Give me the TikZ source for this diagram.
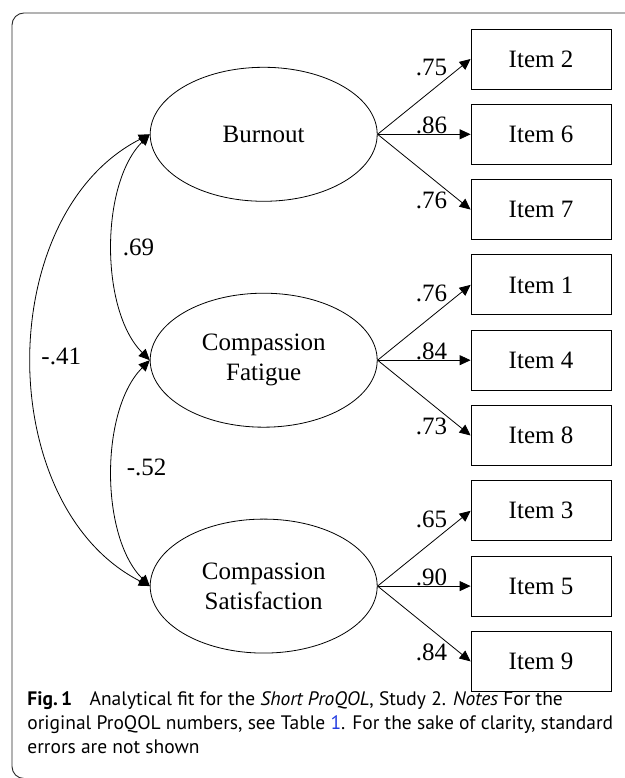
\documentclass[tikz,border=0pt]{standalone}
\usepackage{fontspec}
\setmainfont{Liberation Serif}
\newfontfamily\capfont{PT Sans}
\usepackage{xcolor}
\usetikzlibrary{
    positioning,
    arrows.meta,
    shapes.geometric
}
\definecolor{linkBlue}{RGB}{35, 60, 225}
\definecolor{frameGray}{RGB}{40, 40, 40}

\begin{document}
\begin{tikzpicture}[x=1pt, y=1pt, line width=0.8pt,
        >={Triangle[length=11pt, width=10pt]},
        latent/.style={draw, ellipse, minimum width=227pt, minimum height=134pt,
            inner sep=0pt, align=center, font=\fontsize{25}{30}\selectfont},
        item/.style={draw, rectangle, minimum width=140pt, minimum height=60pt,
            inner sep=0pt, font=\fontsize{25}{30}\selectfont},
        wt/.style={inner sep=1pt, font=\fontsize{25}{30}\selectfont}]
        \useasboundingbox (0,0) rectangle (624,778);
        \draw[frameGray, line width=0.9pt, rounded corners=12pt] (12,-0.5) rectangle (660,765);

        % Indicators
        \node[item] (i2) at (541,719) {Item 2};
        \node[item, below=14.5pt of i2] (i6) {Item 6};
        \node[item, below=14.5pt of i6] (i7) {Item 7};
        \node[item, below=14.5pt of i7] (i1) {Item 1};
        \node[item, below=14.5pt of i1] (i4) {Item 4};
        \node[item, below=14.5pt of i4] (i8) {Item 8};
        \node[item, below=14.5pt of i8] (i3) {Item 3};
        \node[item, below=14.5pt of i3] (i5) {Item 5};
        \node[item, below=14.5pt of i5] (i9) {Item 9};

        % Factors
        \node[latent, left=93pt of i6] (burn) {Burnout};
        \node[latent, left=93pt of i4] (fat) {Compassion\\Fatigue};
        \node[latent, left=93pt of i5] (sat) {Compassion\\Satisfaction};

        % Loadings
        \draw[->] (burn.east) -- (i2.west) node[wt, pos=0.58, above=13pt] {.75};
        \draw[->] (burn.east) -- (i6.west) node[wt, pos=0.58, above=-1pt] {.86};
        \draw[->] (burn.east) -- (i7.west) node[wt, pos=0.58, below=13pt] {.76};
        \draw[->] (fat.east) -- (i1.west) node[wt, pos=0.58, above=13pt] {.76};
        \draw[->] (fat.east) -- (i4.west) node[wt, pos=0.58, above=-1pt] {.84};
        \draw[->] (fat.east) -- (i8.west) node[wt, pos=0.58, below=13pt] {.73};
        \draw[->] (sat.east) -- (i3.west) node[wt, pos=0.58, above=13pt] {.65};
        \draw[->] (sat.east) -- (i5.west) node[wt, pos=0.58, above=-1pt] {.90};
        \draw[->] (sat.east) -- (i9.west) node[wt, pos=0.58, below=13pt] {.84};

        % Correlations
        \draw[<->] (burn.west) to[out=225, in=135, looseness=0.8]
            node[wt, midway, right=9pt] {.69} (fat.west);
        \draw[<->] (fat.west) to[out=225, in=135, looseness=0.8]
            node[wt, midway, right=13pt, yshift=6pt] {-.52} (sat.west);
        \draw[<->] (burn.west) to[out=207, in=153, looseness=1]
            node[wt, midway, right=8pt, yshift=4pt] {-.41} (sat.west);

        \node[anchor=north west, align=left, inner sep=0pt,
            font=\capfont\fontsize{19.5}{24}\selectfont] (cap) at (27,86.5)
            {\textbf{Fig.\,1}\hspace{0.9em}Analytical fit for the \textit{Short ProQOL}, Study 2. \textit{Notes} For the\\
            original ProQOL numbers, see Table {\color{linkBlue}1}. For the sake of clarity, standard\\
            errors are not shown};
\end{tikzpicture}
\end{document}
